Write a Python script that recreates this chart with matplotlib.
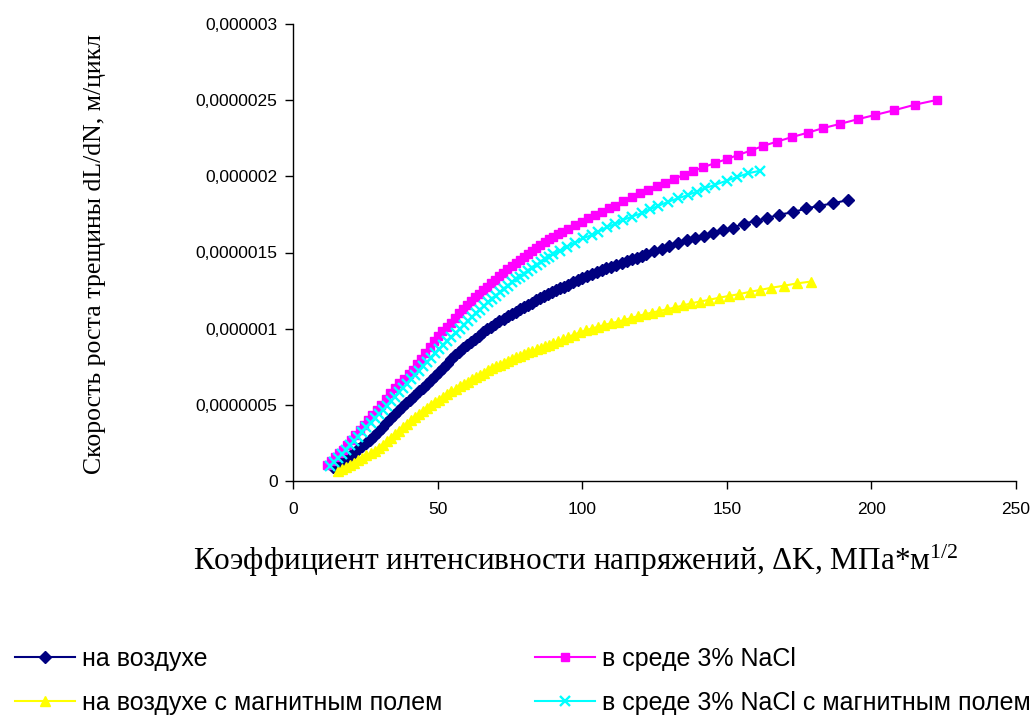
import numpy as np
import matplotlib
matplotlib.use('Agg')
import matplotlib.pyplot as plt

# ── Data (dL/dN in units of 1e-6 m/cycle) ─────────────────────────────
labels = ["на воздухе", "в среде 3% NaCl",
          "на воздухе с магнитным полем", "в среде 3% NaCl с магнитным полем"]

air_x = [14.0, 15.4, 16.8, 18.2, 19.6, 21.0, 22.4, 23.8, 25.2, 26.6, 28.0, 29.4,
         30.8, 32.2, 33.6, 35.0, 36.4, 37.8, 39.2, 40.6, 42.0, 43.4, 44.8, 46.2,
         47.6, 49.0, 50.4, 51.8, 53.2, 54.6, 56.0, 57.4, 58.8, 60.2, 61.6, 63.0,
         64.4, 65.8, 67.2, 68.6, 70.0, 71.4, 72.8, 74.2, 75.6, 77.0, 78.4, 79.8,
         81.2, 82.6, 84.0, 85.4, 86.8, 88.2, 89.6, 91.0, 92.4, 93.8, 95.2, 96.8,
         98.4, 100.0, 101.6, 103.3, 105.0, 106.7, 108.4, 110.1, 111.8, 113.6, 115.4,
         117.2, 119.0, 120.6, 122.1, 124.8, 127.5, 130.1, 133.0, 136.1, 139.0, 142.2,
         145.3, 148.8, 152.2, 155.9, 160.0, 163.8, 168.2, 172.8, 177.4, 181.9, 186.8,
         192.0]
air_y = [0.095, 0.112, 0.130, 0.148, 0.167, 0.187, 0.207, 0.227, 0.248, 0.269, 0.295, 0.322,
         0.350, 0.378, 0.406, 0.434, 0.460, 0.486, 0.510, 0.535, 0.560, 0.588, 0.613, 0.640,
         0.665, 0.690, 0.715, 0.740, 0.765, 0.800, 0.825, 0.849, 0.872, 0.893, 0.914, 0.935,
         0.955, 0.975, 0.995, 1.013, 1.031, 1.048, 1.065, 1.081, 1.097, 1.112, 1.127, 1.142,
         1.157, 1.171, 1.185, 1.199, 1.212, 1.225, 1.238, 1.251, 1.264, 1.276, 1.288, 1.305,
         1.318, 1.330, 1.343, 1.356, 1.369, 1.382, 1.395, 1.408, 1.420, 1.432, 1.444,
         1.456, 1.467, 1.478, 1.490, 1.508, 1.525, 1.543, 1.565, 1.582, 1.594, 1.607,
         1.630, 1.648, 1.663, 1.690, 1.707, 1.725, 1.749, 1.764, 1.789, 1.806, 1.823,
         1.845]

nacl_x = [11.7, 13.1, 14.5, 16.0, 17.4, 18.8, 20.1, 21.6, 23.2, 24.5, 25.9, 27.4,
          28.9, 30.5, 32.2, 33.7, 35.3, 36.8, 38.4, 40.0, 41.6, 43.0, 44.3, 45.8,
          47.4, 48.8, 50.1, 51.6, 53.1, 54.5, 56.0, 57.4, 58.9, 60.2, 61.5, 62.9,
          64.3, 65.6, 67.0, 68.4, 69.8, 71.2, 72.6, 74.1, 75.6, 77.0, 78.5, 79.9,
          81.3, 82.6, 84.0, 85.5, 87.0, 88.5, 90.0, 91.5, 92.9, 95.2, 97.5, 99.8,
          102.1, 104.4, 106.8, 109.1, 111.3, 114.2, 117.1, 120.0, 122.6, 125.8, 128.6,
          131.7, 135.3, 138.4, 141.9, 145.9, 150.0, 154.0, 158.3, 162.6, 167.4, 172.4,
          178.1, 183.2, 189.1, 195.3, 201.3, 207.9, 215.2, 222.8]
nacl_y = [0.105, 0.131, 0.158, 0.181, 0.204, 0.236, 0.269, 0.302, 0.335, 0.368, 0.401, 0.433,
          0.466, 0.502, 0.538, 0.575, 0.611, 0.641, 0.670, 0.700, 0.729, 0.765, 0.801, 0.840,
          0.880, 0.916, 0.952, 0.982, 1.011, 1.040, 1.070, 1.100, 1.129, 1.156, 1.182, 1.205,
          1.228, 1.251, 1.274, 1.297, 1.320, 1.343, 1.366, 1.389, 1.412, 1.432, 1.451, 1.471,
          1.490, 1.510, 1.530, 1.549, 1.569, 1.587, 1.604, 1.619, 1.632, 1.655, 1.679, 1.702,
          1.724, 1.746, 1.768, 1.789, 1.808, 1.840, 1.863, 1.889, 1.911, 1.937, 1.959,
          1.983, 2.010, 2.034, 2.060, 2.087, 2.113, 2.141, 2.169, 2.200, 2.228, 2.257,
          2.287, 2.316, 2.344, 2.375, 2.403, 2.434, 2.471, 2.502]

air_mag_x = [15.6, 17.0, 18.4, 19.8, 21.2, 22.6, 24.0, 25.4, 26.8, 28.2, 29.6, 31.0,
             32.4, 33.8, 35.2, 36.6, 38.0, 39.4, 40.8, 42.2, 43.6, 45.0, 46.4, 47.8,
             49.2, 50.6, 52.0, 53.4, 54.8, 56.2, 57.6, 59.0, 60.4, 61.8, 63.2, 64.6,
             66.0, 67.4, 68.8, 70.2, 71.6, 73.0, 74.4, 75.8, 77.2, 78.6, 80.0, 81.4,
             82.8, 84.2, 85.6, 87.0, 88.5, 90.0, 91.6, 93.3, 95.2, 97.2, 99.2, 101.3,
             103.3, 105.6, 107.6, 110.0, 112.3, 114.6, 116.9, 119.4, 121.7, 124.0, 126.7,
             129.2, 132.1, 135.0, 137.6, 140.7, 143.8, 147.3, 150.8, 154.3, 158.0, 161.5,
             165.2, 169.8, 174.2, 179.0]
air_mag_y = [0.068, 0.080, 0.093, 0.106, 0.120, 0.136, 0.152, 0.168, 0.184, 0.198, 0.215, 0.238,
             0.261, 0.284, 0.307, 0.330, 0.352, 0.375, 0.398, 0.420, 0.440, 0.459, 0.478, 0.497,
             0.516, 0.535, 0.553, 0.571, 0.589, 0.606, 0.622, 0.638, 0.653, 0.668, 0.683, 0.698,
             0.712, 0.726, 0.739, 0.752, 0.764, 0.776, 0.788, 0.800, 0.811, 0.822, 0.833, 0.844,
             0.855, 0.865, 0.875, 0.885, 0.895, 0.905, 0.917, 0.930, 0.947, 0.961, 0.975, 0.989,
             1.001, 1.013, 1.024, 1.036, 1.046, 1.057, 1.070, 1.083, 1.095, 1.105, 1.116,
             1.127, 1.139, 1.153, 1.166, 1.178, 1.189, 1.203, 1.215, 1.227, 1.242, 1.254,
             1.268, 1.282, 1.297, 1.309]

nacl_mag_x = [12.8, 14.2, 15.6, 17.0, 18.4, 19.8, 21.2, 22.6, 24.0, 25.4, 26.8, 28.2,
              29.6, 31.0, 32.4, 33.8, 35.2, 36.6, 38.0, 39.4, 40.8, 42.2, 43.6, 45.0,
              46.4, 47.8, 49.2, 50.6, 52.0, 53.4, 54.8, 56.2, 57.6, 59.0, 60.4, 61.8,
              63.2, 64.6, 66.0, 67.4, 68.8, 70.2, 71.6, 73.0, 74.4, 75.8, 77.2, 78.6,
              80.0, 81.4, 82.8, 84.2, 85.6, 87.0, 88.4, 89.8, 92.3, 94.6, 97.5, 100.4,
              103.3, 105.6, 108.5, 111.3, 114.2, 117.1, 120.6, 123.4, 126.3, 129.8, 133.2,
              136.7, 139.6, 142.5, 145.9, 150.0, 153.4, 157.4, 161.5]
nacl_mag_y = [0.100, 0.128, 0.151, 0.178, 0.202, 0.235, 0.263, 0.292, 0.321, 0.353, 0.380, 0.411,
              0.437, 0.464, 0.494, 0.524, 0.553, 0.582, 0.611, 0.640, 0.668, 0.697, 0.725, 0.753,
              0.781, 0.809, 0.837, 0.864, 0.891, 0.918, 0.945, 0.972, 0.998, 1.024, 1.050, 1.075,
              1.100, 1.124, 1.148, 1.172, 1.194, 1.217, 1.239, 1.261, 1.283, 1.304, 1.324, 1.342,
              1.361, 1.380, 1.400, 1.420, 1.438, 1.456, 1.472, 1.488, 1.512, 1.538, 1.565, 1.594,
              1.615, 1.637, 1.666, 1.687, 1.714, 1.735, 1.758, 1.784, 1.806, 1.834, 1.856,
              1.878, 1.900, 1.922, 1.944, 1.972, 1.994, 2.020, 2.037]

x_ticks = [0, 50, 100, 150, 200, 250]
y_ticks = [0, 0.5e-6, 1e-6, 1.5e-6, 2e-6, 2.5e-6, 3e-6]
y_tick_labels = ["0", "0,0000005", "0,000001", "0,0000015", "0,000002", "0,0000025", "0,000003"]

# ── Figure ────────────────────────────────────────────────────────────
plt.rcParams['font.family'] = ['Liberation Sans', 'DejaVu Sans']
plt.rcParams['mathtext.fontset'] = 'custom'
plt.rcParams['mathtext.rm'] = 'Liberation Serif'
plt.rcParams['mathtext.it'] = 'Liberation Serif:italic'

fig = plt.figure(figsize=(10.36, 7.16), dpi=100)
ax = fig.add_axes([293 / 1036, 1 - 481 / 716, (1016 - 293) / 1036, (481 - 24) / 716])

series = [
    (air_x, air_y, '#000080', 'D', 6.6, labels[0]),
    (nacl_x, nacl_y, '#FF00FF', 's', 6.4, labels[1]),
    (air_mag_x, air_mag_y, '#FFFF00', '^', 7.8, labels[2]),
    (nacl_mag_x, nacl_mag_y, '#00FFFF', 'x', 7.0, labels[3]),
]
lines = []
for xs, ys, col, mk, ms, lab in series:
    ln, = ax.plot(xs, np.array(ys) * 1e-6, color=col, marker=mk, ms=ms,
                  mew=1.7 if mk == 'x' else 1.0, mec=col, mfc=col, lw=1.5, label=lab)
    lines.append(ln)

ax.set_xlim(0, 250)
ax.set_ylim(0, 3e-6)
ax.set_xticks(x_ticks)
ax.set_yticks(y_ticks)
ax.set_yticklabels(y_tick_labels)
ax.tick_params(axis='both', direction='out', length=6, width=1, labelsize=12.5)
ax.tick_params(axis='y', pad=5)
ax.tick_params(axis='x', pad=9)
for s in ['top', 'right']:
    ax.spines[s].set_visible(False)
for s in ['left', 'bottom']:
    ax.spines[s].set_linewidth(1)

fig.text(95 / 1036, 1 - 254 / 716, "Скорость роста трещины dL/dN, м/цикл",
         rotation=90, ha='center', va='center', family='Liberation Serif', fontsize=18.5)
fig.text(576 / 1036, 1 - 561 / 716,
         "Коэффициент интенсивности напряжений, ΔK, МПа*м$^{1/2}$",
         ha='center', va='center', family='Liberation Serif', fontsize=22.5)

# legend: two columns placed separately (left: 1 and 3, right: 2 and 4)
leg_kw = dict(loc='upper left', frameon=False, fontsize=18, numpoints=1,
              handlelength=2.4, handletextpad=0.3, labelspacing=0.8,
              borderaxespad=0, borderpad=0)
fig.legend([lines[0], lines[2]], [labels[0], labels[2]],
           bbox_to_anchor=(15 / 1036, 1 - 647 / 716), **leg_kw)
fig.legend([lines[1], lines[3]], [labels[1], labels[3]],
           bbox_to_anchor=(535 / 1036, 1 - 647 / 716), **leg_kw)

fig.savefig("out.png", dpi=100)
